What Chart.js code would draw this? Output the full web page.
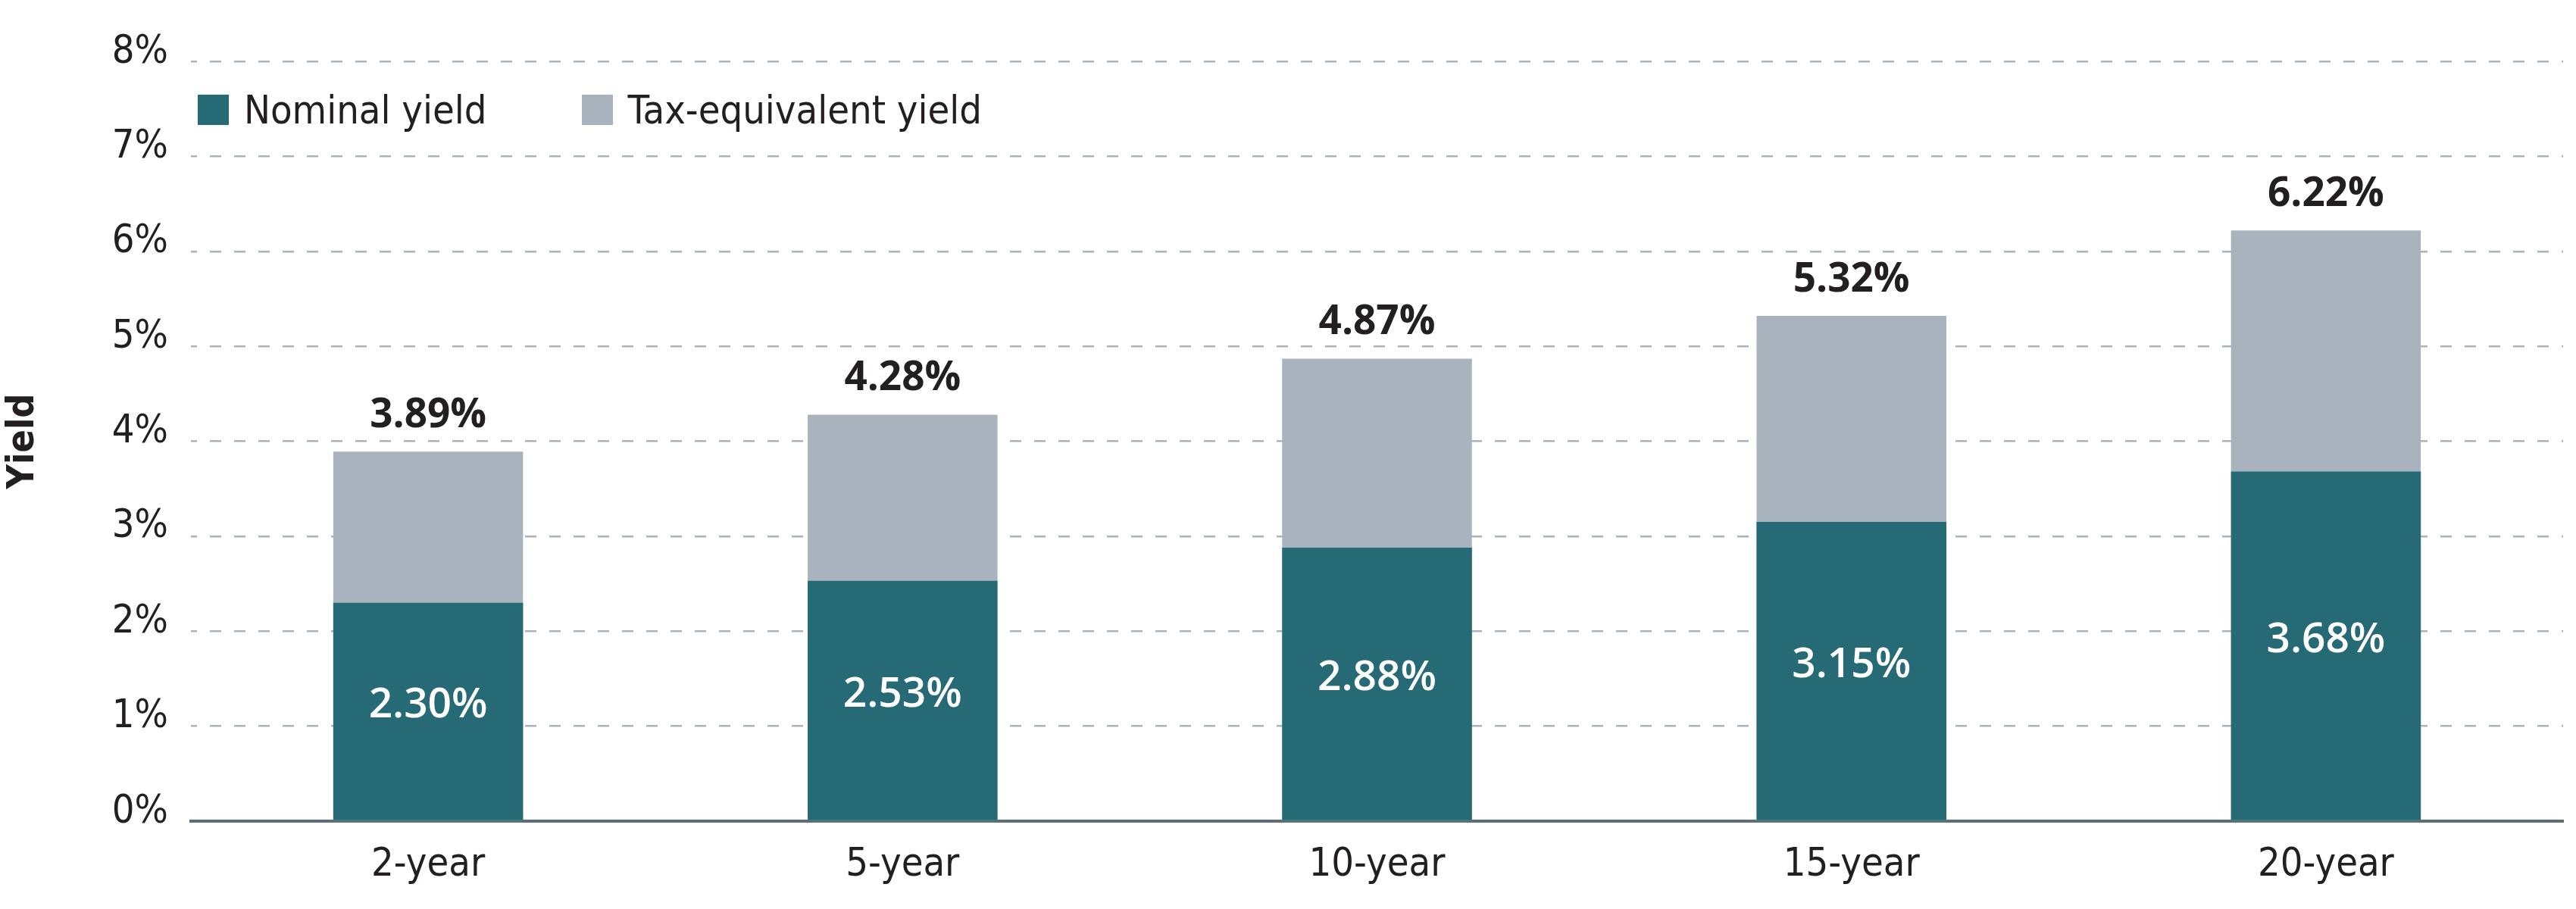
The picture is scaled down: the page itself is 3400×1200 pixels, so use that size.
<!DOCTYPE html>
<html>
<head>
<meta charset="utf-8">
<title>Nominal vs tax-equivalent yield</title>
<script src="https://cdn.jsdelivr.net/npm/chart.js@4.4.1/dist/chart.umd.min.js"></script>
<style>
  body { margin: 0; background: #fff; }
  #wrap { position: relative; width: 3400px; height: 1200px; }
  #legend {
    position: absolute; left: 261px; top: 118px;
    display: flex; align-items: center;
    font-family: "DejaVu Sans Condensed", "DejaVu Sans", sans-serif;
    font-size: 52px; color: #231f20; line-height: 54px;
  }
  #legend .item { display: flex; align-items: center; margin-right: 125px; }
  #legend .swatch { width: 41px; height: 40px; margin-right: 20px; }
</style>
</head>
<body>
<div id="wrap">
  <canvas id="yieldChart" width="3400" height="1200"></canvas>
  <div id="legend"></div>
</div>
<script>
const maturities = ['2-year', '5-year', '10-year', '15-year', '20-year'];
const nominalYield = [2.30, 2.53, 2.88, 3.15, 3.68];
const taxEquivalentYield = [3.89, 4.28, 4.87, 5.32, 6.22];
const yieldTicks = [0, 1, 2, 3, 4, 5, 6, 7, 8];

const TEAL = '#266a76';
const GREY = '#a9b3bd';
const INK = '#231f20';
const condensed = '"DejaVu Sans Condensed", "DejaVu Sans", sans-serif';

function pct(v) {
    return v.toFixed(2) + '%';
}

// value labels: total above the bar, nominal inside the teal part
const barLabels = {
    id: 'barLabels',
    afterDatasetsDraw(chart) {
        const ctx = chart.ctx;
        const nominalBars = chart.getDatasetMeta(0).data;
        const totalBars = chart.getDatasetMeta(1).data;
        ctx.save();
        ctx.textAlign = 'center';
        ctx.textBaseline = 'alphabetic';
        nominalBars.forEach((bar, i) => {
            ctx.font = '600 55px "Open Sans"';
            ctx.fillStyle = '#ffffff';
            ctx.fillText(pct(nominalYield[i]), bar.x, (bar.y + bar.base) / 2 + 8);

            const top = totalBars[i];
            ctx.font = 'bold 53px "Open Sans"';
            ctx.fillStyle = INK;
            ctx.fillText(pct(taxEquivalentYield[i]), top.x, top.y - 32);
        });
        ctx.restore();
    }
};

function drawChart() {
    const ctx = document.getElementById('yieldChart').getContext('2d');

    const data = {
        labels: maturities,
        datasets: [{
            label: 'Nominal yield',
            data: nominalYield,
            backgroundColor: TEAL
        }, {
            label: 'Tax-equivalent yield',
            data: taxEquivalentYield,
            backgroundColor: GREY
        }]
    };

    const options = {
        responsive: false,
        animation: false,
        layout: { padding: { top: 81, right: 17, bottom: 0, left: 0 } },
        datasets: {
            bar: { categoryPercentage: 1, barPercentage: 0.4 }
        },
        scales: {
            x: {
                stacked: true,
                z: 1,
                grid: { display: false, drawTicks: false },
                border: { display: true, color: '#5b6f79', width: 4 },
                ticks: {
                    padding: 27,
                    color: INK,
                    font: { family: condensed, size: 52, lineHeight: 1.2 }
                },
                afterFit(scale) { scale.height = 116; }
            },
            y: {
                stacked: false,
                min: 0,
                max: 8,
                afterBuildTicks(scale) {
                    scale.ticks = yieldTicks.map(v => ({ value: v }));
                },
                afterFit(scale) { scale.width = 252; },
                grid: { color: GREY, lineWidth: 2.5, drawTicks: false },
                border: { display: false, dash: [15, 17], dashOffset: 7 },
                ticks: {
                    padding: 30,
                    labelOffset: -12,
                    color: INK,
                    font: { family: condensed, size: 52 },
                    callback: v => v + '%'
                },
                title: {
                    display: true,
                    text: 'Yield',
                    color: INK,
                    padding: { top: 4 },
                    font: { family: condensed, size: 50, weight: 'bold', lineHeight: 1.1 }
                }
            }
        },
        plugins: {
            legend: { display: false },
            tooltip: { callbacks: { label: c => c.dataset.label + ': ' + pct(c.parsed.y) } }
        }
    };

    return new Chart(ctx, {
        type: 'bar',
        data: data,
        options: options,
        plugins: [barLabels]
    });
}

function buildLegend(chart) {
    const box = document.getElementById('legend');
    chart.data.datasets.forEach(ds => {
        const item = document.createElement('span');
        item.className = 'item';
        const swatch = document.createElement('span');
        swatch.className = 'swatch';
        swatch.style.background = ds.backgroundColor;
        const text = document.createElement('span');
        text.textContent = ds.label;
        item.appendChild(swatch);
        item.appendChild(text);
        box.appendChild(item);
    });
}

function main() {
    const chart = drawChart();
    buildLegend(chart);
}

main();
</script>
</body>
</html>
